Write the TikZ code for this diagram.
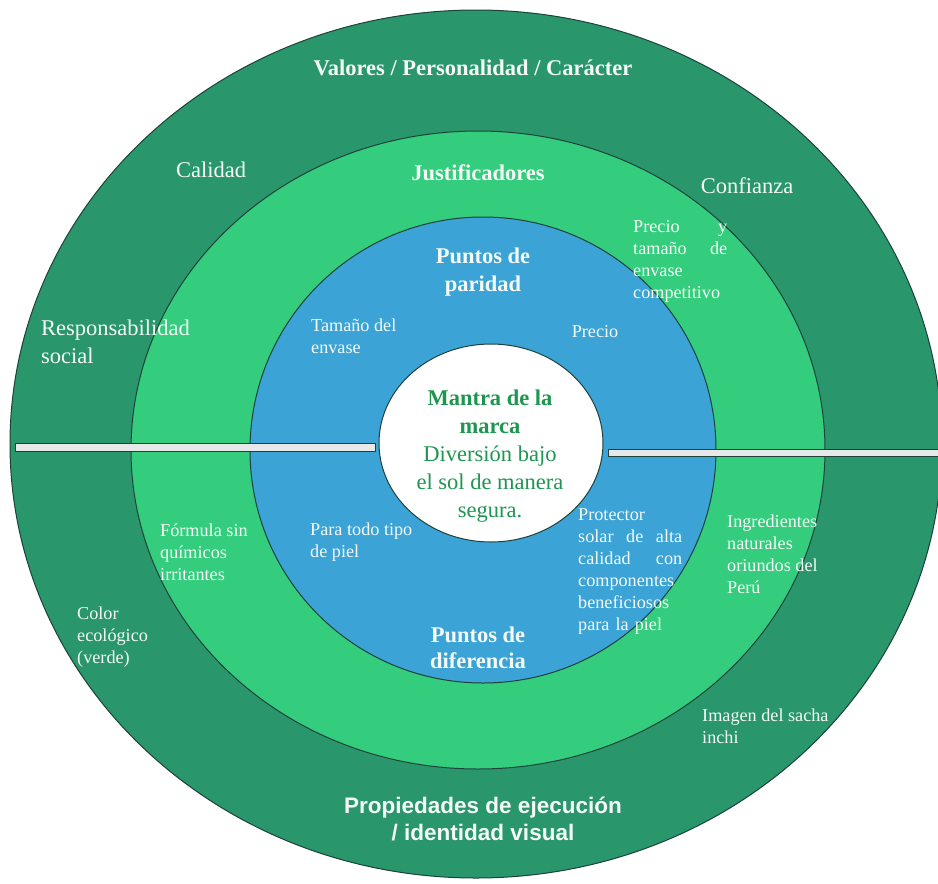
\documentclass[tikz,border=0pt]{standalone}
\usepackage{fontspec}
\setmainfont{Liberation Serif}
\newfontfamily\arialfont{Liberation Sans}
\usepackage{xcolor}
\usepackage{tikz}
\usetikzlibrary{positioning}

\definecolor{outergreen}{RGB}{42,150,108}
\definecolor{midgreen}{RGB}{52,204,125}
\definecolor{parityblue}{RGB}{59,163,214}
\definecolor{ringline}{RGB}{28,66,58}
\definecolor{mantragreen}{RGB}{30,150,80}
\definecolor{labelwhite}{RGB}{244,250,246}
\definecolor{barfill}{RGB}{230,232,234}

\begin{document}
\begin{tikzpicture}[
    x=1pt, y=-1pt,
    every node/.style={inner sep=0pt, text=labelwhite},
    ring/.style={draw=ringline, line width=1pt},
    bar/.style={draw=ringline, fill=barfill, line width=1pt},
    big/.style={font=\fontsize{22.5}{28}\selectfont, align=left},
    bigbold/.style={font=\fontsize{22.5}{28}\selectfont\bfseries, align=center},
    small/.style={font=\fontsize{18.2}{22}\selectfont, align=left}
]
\useasboundingbox (0,0) rectangle (938,884);

% rings, outside in
\fill[white] (0,0) rectangle (938,884);
\draw[ring, fill=outergreen] (476,444) ellipse [x radius=466pt, y radius=434pt];
\draw[ring, fill=midgreen] (478,450) ellipse [x radius=347pt, y radius=319pt];
\draw[ring, fill=parityblue] (483,450) ellipse [x radius=233pt, y radius=233pt];
\draw[ring, fill=white] (491,443) ellipse [x radius=112pt, y radius=99pt];

% dividers
\draw[bar] (15,443) rectangle (375,451);
\draw[bar] (608,449) rectangle (945,456);

% outer ring
\node[bigbold, anchor=base] (valores) at (473,75) {Valores / Personalidad / Carácter};
\node[big, anchor=base] (calidad) at (211,177) {Calidad};
\node[big, anchor=base] (confianza) at (747,193) {Confianza};
\node[big, anchor=north west] (responsab) at (41,320) {Responsabilidad\\ social};
\node[small, anchor=north west] (color) at (77,607) {Color\\ ecológico\\ (verde)};
\node[small, anchor=north west] (sacha) at (702,709) {Imagen del sacha\\ inchi};
\node[font=\arialfont\bfseries\fontsize{22.5}{27}\selectfont, align=center, anchor=north]
    (propiedades) at (483,797) {Propiedades de ejecución\\ / identidad visual};

% justificadores
\node[bigbold, anchor=base] (justif) at (478,180) {Justificadores};
\node[small, anchor=north west, text width=94pt] (preciotam) at (633,220)
    {Precio\hfill y\\ tamaño\hfill de\\ envase\\ \mbox{competitivo}};
\node[small, anchor=north west] (formula) at (160,524) {Fórmula sin\\ químicos\\ irritantes};
\node[small, anchor=north west] (ingred) at (727,515) {Ingredientes\\ naturales\\ oriundos del\\ Perú};

% paridad / diferencia
\node[bigbold, anchor=north] (paridad) at (483,248) {Puntos de\\ paridad};
\node[small, anchor=north west] (tamano) at (311,319) {Tamaño del\\ envase};
\node[small, anchor=base] (precio) at (595,337) {Precio};
\node[small, anchor=north west, text width=104pt] (protector) at (578,508)
    {Protector\\ solar\hfill de\hfill alta\\ calidad\hfill con\\ componentes\\ beneficiosos\\ \mbox{para la piel}};
\node[small, anchor=north west] (piel) at (310,523) {Para todo tipo\\ de piel};
\node[bigbold, anchor=north, font=\fontsize{22.5}{26}\selectfont\bfseries] (diferencia) at (478,627) {Puntos de\\ diferencia};

% mantra
\node[big, align=center, anchor=north, text=mantragreen] (mantra) at (490,390)
    {\textbf{Mantra de la}\\ \textbf{marca}\\ Diversión bajo\\ el sol de manera\\ segura.};
\end{tikzpicture}
\end{document}
